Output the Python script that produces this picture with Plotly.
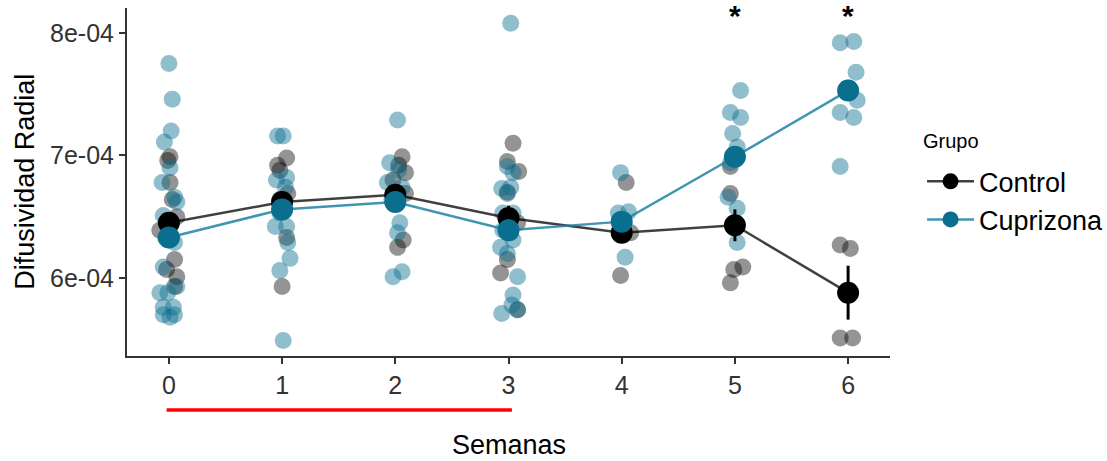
import numpy as np
import plotly.graph_objects as go

# ---- data (values in units of 1e-4) ----
semanas = [0, 1, 2, 3, 4, 5, 6]
tick_vals = [6e-4, 7e-4, 8e-4]
tick_text = ["6e-04", "7e-04", "8e-04"]

# individual observations: week, horizontal jitter, value (x1e-4)
ctrl_week = [0]*10 + [1]*7 + [2]*7 + [3]*8 + [4]*4 + [5]*5 + [6]*4
ctrl_jit = [0.01, -0.01, 0.01, 0.03, -0.08, 0.07, 0.05, -0.02, 0.07, 0.05,
            0.04, -0.04, -0.02, 0.05, -0.02, 0.04, 0.0,
            0.06, 0.03, 0.09, -0.02, 0.09, 0.07, 0.02,
            0.04, 0.09, -0.01, -0.01, 0.08, -0.01, -0.07, 0.08,
            0.04, 0.01, 0.08, -0.01,
            -0.04, -0.04, -0.01, 0.07, -0.04,
            -0.07, 0.02, -0.07, 0.04]
ctrl_val = [6.99, 6.96, 6.78, 6.64, 6.39, 6.50, 6.15, 6.07, 6.01, 5.93,
            6.98, 6.92, 6.88, 6.69, 6.64, 6.33, 5.93,
            6.99, 6.92, 6.86, 6.80, 6.69, 6.31, 6.25,
            7.10, 6.87, 6.95, 6.70, 6.45, 6.15, 6.04, 5.74,
            6.78, 6.39, 6.37, 6.02,
            6.91, 6.69, 6.07, 6.09, 5.96,
            6.27, 6.24, 5.51, 5.51]

cup_week = [0]*20 + [1]*13 + [2]*11 + [3]*18 + [4]*5 + [5]*10 + [6]*8
cup_jit = [0.0, 0.03, 0.02, -0.04, -0.06, 0.01, 0.05, 0.07, -0.05, 0.05, -0.05, 0.07,
           -0.08, -0.01, -0.05, 0.04, -0.05, 0.05, 0.01, -0.03,
           -0.04, 0.01, 0.04, -0.05, 0.03, -0.02, -0.06, 0.04, 0.05, 0.07, -0.02, 0.01, 0.01,
           0.02, -0.05, 0.03, -0.07, 0.06, -0.03, 0.04, 0.02, 0.06, -0.02, 0.0,
           0.02, -0.01, 0.04, -0.06, 0.02, -0.01, -0.05, 0.04, -0.05, 0.02, 0.04,
           -0.07, -0.01, 0.08, 0.04, -0.06, 0.03, 0.08,
           -0.01, -0.03, 0.06, 0.01, 0.03,
           0.05, -0.04, 0.05, -0.02, 0.02, -0.04, -0.01, -0.06, 0.02, 0.02,
           -0.07, 0.05, 0.07, 0.0, 0.08, -0.07, 0.05, -0.07]
cup_val = [7.75, 7.46, 7.20, 7.11, 6.78, 6.90, 6.66, 6.62, 6.51, 6.29, 6.09, 5.93,
           5.88, 5.88, 5.76, 5.76, 5.70, 5.70, 5.68, 6.33,
           7.16, 7.16, 6.82, 6.80, 6.74, 6.53, 6.42, 6.42, 6.29, 6.16, 6.06, 5.49, 6.58,
           7.29, 6.94, 6.88, 6.78, 6.74, 6.64, 6.45, 6.37, 6.05, 6.01, 6.62,
           8.08, 6.91, 6.86, 6.73, 6.74, 6.69, 6.53, 6.53, 6.39, 6.37, 6.31, 6.25, 6.20,
           6.01, 5.86, 5.71, 5.78, 5.74,
           6.86, 6.53, 6.54, 6.47, 6.17,
           7.53, 7.35, 7.31, 7.18, 7.07, 6.94, 6.99, 6.66, 6.57, 6.29,
           7.92, 7.93, 7.68, 7.55, 7.45, 7.35, 7.31, 6.91]

# group means and standard errors (x1e-4)
ctrl_mean = [6.45, 6.62, 6.68, 6.49, 6.37, 6.43, 5.88]
ctrl_se = [0.06, 0.07, 0.06, 0.10, 0.07, 0.13, 0.22]
cup_mean = [6.33, 6.56, 6.62, 6.39, 6.46, 6.99, 7.53]
cup_se = [0.07, 0.08, 0.07, 0.09, 0.07, 0.08, 0.08]

signif_weeks = [5, 6]
signif_y = 8.14
tratamiento = [-0.02, 3.03]

S = 1e-4
C_CTRL = "#000000"
C_CUP = "#0A6E8F"
FONT = "Liberation Sans, Arial, sans-serif"

fig = go.Figure()

fig.add_trace(go.Scatter(
    x=np.array(ctrl_week) + np.array(ctrl_jit), y=np.array(ctrl_val) * S,
    mode="markers", showlegend=False, hoverinfo="skip",
    marker=dict(size=17, color="rgba(0,0,0,0.42)", line=dict(width=0))))
fig.add_trace(go.Scatter(
    x=np.array(cup_week) + np.array(cup_jit), y=np.array(cup_val) * S,
    mode="markers", showlegend=False, hoverinfo="skip",
    marker=dict(size=17, color="rgba(10,110,143,0.45)", line=dict(width=0))))

fig.add_trace(go.Scatter(
    x=semanas, y=np.array(ctrl_mean) * S, name="Control", legendgroup="c",
    mode="lines+markers",
    line=dict(color="rgba(0,0,0,0.75)", width=2.5),
    marker=dict(size=22, color=C_CTRL),
    error_y=dict(type="data", array=np.array(ctrl_se) * S, color=C_CTRL,
                 thickness=3, width=0)))
fig.add_trace(go.Scatter(
    x=semanas, y=np.array(cup_mean) * S, name="Cuprizona", legendgroup="k",
    mode="lines+markers",
    line=dict(color="rgba(30,130,165,0.85)", width=2.5),
    marker=dict(size=22, color=C_CUP),
    error_y=dict(type="data", array=np.array(cup_se) * S, color=C_CUP,
                 thickness=3, width=0)))

for w in signif_weeks:
    fig.add_annotation(x=w, y=signif_y * S, text="<b>*</b>", showarrow=False,
                       font=dict(size=30, color="black", family=FONT), yanchor="middle")

fig.add_shape(type="line", xref="x", yref="paper",
              x0=tratamiento[0], x1=tratamiento[1], y0=-0.155, y1=-0.155,
              line=dict(color="#FF0000", width=3.5))

# axis titles and legend title as annotations for exact placement
fig.add_annotation(text="Semanas", xref="paper", yref="paper", x=0.5, y=-0.2557,
                   xanchor="center", yanchor="middle", showarrow=False, height=32,
                   font=dict(size=27, color="black", family=FONT))
fig.add_annotation(text="Difusividad Radial", xref="paper", yref="paper", x=-0.134, y=0.5,
                   xanchor="center", yanchor="middle", showarrow=False, textangle=-90,
                   font=dict(size=27, color="black", family=FONT))
fig.add_annotation(text="Grupo", xref="paper", yref="paper", x=1.04, y=0.618,
                   xanchor="left", yanchor="middle", showarrow=False,
                   font=dict(size=20, color="black", family=FONT))

axis_font = dict(family=FONT, size=25, color="#333333")
fig.update_layout(
    width=1107, height=461,
    margin=dict(l=127, r=217, t=8, b=105, autoexpand=False),
    plot_bgcolor="white", paper_bgcolor="white",
    font=dict(family=FONT, color="black"),
    legend=dict(font=dict(size=27), x=1.042, y=0.571, xanchor="left", yanchor="top",
                itemwidth=47, tracegroupgap=0),
    xaxis=dict(range=[-0.37, 6.37], tickvals=semanas, ticktext=[str(s) for s in semanas],
               showgrid=False, zeroline=False, showline=True, linecolor="#333333",
               linewidth=2, ticks="outside", ticklen=6, tickwidth=2, tickcolor="#333333",
               tickfont=axis_font, automargin=False),
    yaxis=dict(range=[5.363e-4, 8.204e-4], tickvals=tick_vals, ticktext=tick_text,
               showgrid=False, zeroline=False, showline=True, linecolor="#333333",
               linewidth=2, ticks="outside", ticklen=6, tickwidth=2, tickcolor="#333333",
               tickfont=axis_font, automargin=False),
)

# remove the default page margin so the figure fills the window exactly
fig.write_html("out.html", config={"displayModeBar": False},
               post_script="document.body.style.margin='0';")
